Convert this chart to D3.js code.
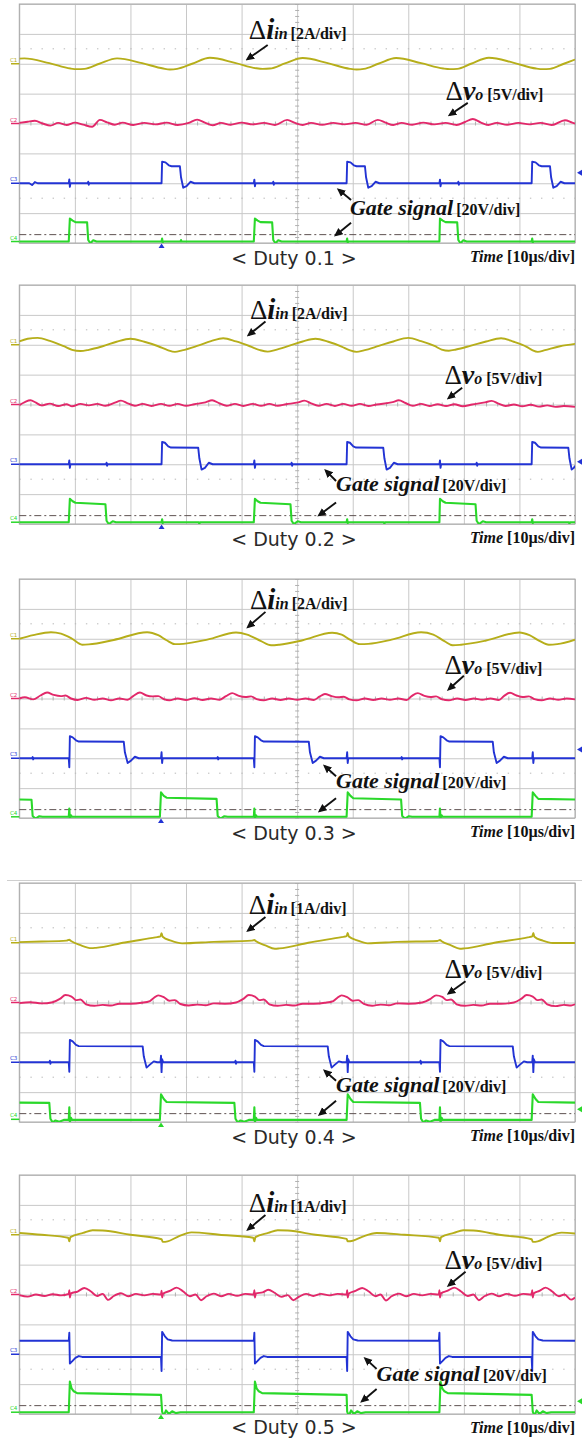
<!DOCTYPE html>
<html>
<head>
<meta charset="utf-8">
<script src="https://cdn.jsdelivr.net/npm/d3@7/dist/d3.min.js"></script>
<style>
  body { margin: 0; background: #fff; }
</style>
</head>
<body>
<svg width="582" height="1439"></svg>
<script>
// ---- data: time in µs (0..100, 10µs/div), value in divisions relative to channel ground ----
const duty = [0.1, 0.2, 0.3, 0.4, 0.5];
const iinScale = ['2A/div', '2A/div', '2A/div', '1A/div', '1A/div'];
const voScale = '5V/div';
const gateScale = '20V/div';
const timeScale = '10µs/div';
const channelNames = ['C1', 'C2', 'C3', 'C4'];

// ground marker of each channel (divisions from centre), per panel
const offsets = [
  [2, 0, -2, -3.95],
  [2, 0, -2, -3.94],
  [2, 0, -2, -3.96],
  [2, 0, -2, -3.91],
  [2, 0, -2, -3.94]
];
const triggerLevel = -3.72;          // dash-dot line
const triggerTime = [25.6, 25.6, 25.5, 25.5, 25.5];
const triggerMark = [-1.65, -1.92, -1.71, -3.57, -3.57];
const triggerChannel = [2, 2, 2, 3, 3];

// ---- Duty 0.1 ----
const p1c1 = [0,0.17, 0.9,0.18, 5.4,0.02, 9.2,-0.16, 10.4,-0.18, 11.7,-0.17, 14.4,0, 17.6,0.18, 22.1,0.02, 25.9,-0.16, 27.1,-0.19, 28.4,-0.17, 31.1,0, 34.3,0.2, 38.8,0.03, 42.6,-0.15, 43.8,-0.17, 45.1,-0.16, 47.8,0.01, 51,0.19, 55.5,0.02, 59.5,-0.17, 60.7,-0.19, 62,-0.17, 64.6,0, 67.8,0.19, 72.3,0.02, 76.3,-0.16, 77.5,-0.18, 78.8,-0.17, 81.3,0, 84.5,0.2, 89,0.03, 93,-0.16, 94.2,-0.18, 95.5,-0.17, 98,0, 100,0.14];
const p1c2 = [0,0.02, 1.5,0.06, 2.8,0.09, 4.2,0, 5.6,-0.07, 7,0.02, 8.5,-0.05, 10,0.03, 11.5,-0.04, 13.1,-0.11, 14.5,0.12, 15.8,0.04, 17.2,-0.04, 18.6,0.03, 20.5,-0.05, 22.5,0.02, 24.5,-0.03, 26.5,0.03, 28.5,-0.05, 30.5,0.02, 32,0.13, 33.4,0.03, 34.8,-0.06, 36.3,0.02, 38,-0.04, 40,0.03, 42,-0.03, 44,0.02, 46,-0.05, 48.2,0.12, 49.6,0.02, 51,-0.05, 52.5,0.02, 54.5,-0.04, 56.5,0.02, 58.5,-0.03, 60.5,0.02, 62.5,-0.04, 64.5,0.12, 65.9,0.03, 67.3,-0.05, 68.8,0.02, 70.7,-0.04, 72.7,0.03, 74.7,-0.03, 76.7,0.02, 78.7,-0.05, 80.2,0.05, 81.6,0.15, 83,0.04, 84.4,-0.05, 85.9,0.02, 87.8,-0.04, 89.8,0.02, 91.8,-0.03, 93.8,0.02, 95.8,-0.05, 98.2,0.11, 99.5,0.03, 100,0];
const p1c3 = [0,0, 1.8,0, 2.3,-0.06, 2.8,0.04, 3.3,0, 8.9,0, 9,0.13, 9.1,-0.12, 9.2,0, 12.3,0, 12.4,0.05, 12.5,-0.05, 12.6,0, 25.6,0, 25.7,0.72, 26.3,0.7, 26.9,0.6, 27.4,0.57, 28.9,0.57, 29.1,0.2, 29.5,-0.15, 30.1,-0.1, 30.8,0.05, 31.5,0, 42.2,0, 42.3,0.12, 42.4,-0.1, 42.5,0, 45.6,0, 45.7,0.05, 45.8,-0.05, 45.9,0, 58.9,0, 59,0.72, 59.6,0.7, 60.2,0.6, 60.7,0.57, 62.2,0.57, 62.4,0.2, 62.8,-0.15, 63.4,-0.1, 64.1,0.05, 64.8,0, 75.6,0, 75.7,0.12, 75.8,-0.1, 75.9,0, 78.9,0, 79,0.05, 79.1,-0.05, 79.2,0, 92.2,0, 92.3,0.72, 92.9,0.7, 93.5,0.6, 94,0.57, 95.5,0.57, 95.7,0.2, 96.1,-0.15, 96.7,-0.1, 97.4,0.05, 98.1,0, 100,0];
const p1c4 = [0,0, 8.9,0, 9.1,0.77, 9.6,0.7, 10.1,0.65, 12.2,0.64, 12.4,0.05, 12.8,-0.06, 13.3,0.04, 13.9,0, 25.6,0, 25.7,0.1, 25.8,-0.04, 25.9,0, 29,0, 29.1,0.05, 29.2,0, 42.2,0, 42.4,0.77, 42.9,0.7, 43.4,0.65, 45.5,0.64, 45.7,0.05, 46.1,-0.06, 46.6,0.04, 47.2,0, 58.9,0, 59,0.1, 59.1,-0.04, 59.2,0, 75.6,0, 75.7,0.77, 76.2,0.7, 76.7,0.65, 78.8,0.64, 79,0.05, 79.4,-0.06, 79.9,0.04, 80.5,0, 92.2,0, 92.3,0.1, 92.4,-0.04, 92.5,0, 100,0];

// ---- Duty 0.2 ----
const p2c1 = [0,0.11, 1.5,0.2, 3.3,0.23, 5.5,0.13, 8,-0.05, 9.5,-0.17, 11,-0.21, 12.5,-0.17, 15,-0.05, 17.5,0.1, 20,0.2, 22.5,0.1, 25,-0.05, 26.7,-0.18, 28,-0.24, 29.3,-0.19, 32,-0.04, 34.5,0.12, 36.7,0.22, 39,0.11, 41.5,-0.05, 43.3,-0.18, 44.7,-0.23, 46,-0.18, 48.5,-0.04, 51,0.11, 53.3,0.2, 55.6,0.1, 58,-0.06, 59.4,-0.18, 60.7,-0.24, 62,-0.19, 64.7,-0.04, 67.3,0.11, 70,0.23, 72.3,0.12, 74.7,-0.04, 76,-0.16, 77.3,-0.2, 78.6,-0.16, 81.3,-0.03, 84,0.11, 86.7,0.22, 89,0.1, 91.3,-0.07, 92.3,-0.18, 93.3,-0.24, 94.6,-0.18, 97.3,-0.05, 100,0.03];
const p2c2 = [0,-0.02, 1,0.08, 2,0.14, 3,0.06, 4,-0.03, 5.5,0.03, 7,-0.05, 8.5,0.01, 9.5,-0.06, 11,0.02, 12.5,-0.03, 14,0.02, 15.5,-0.04, 17.2,0.06, 18.3,0.13, 19.5,0.04, 20.8,-0.04, 22.2,0.02, 23.8,-0.05, 25.5,0.02, 27,-0.04, 28.5,0.02, 30,-0.04, 31.5,0.01, 33.5,0.07, 34.7,0.14, 36,0.04, 37.3,-0.04, 38.8,0.02, 40.3,-0.05, 42,0.02, 43.5,-0.04, 45,0.02, 46.5,-0.04, 48,0.01, 50.2,0.07, 51.3,0.13, 52.5,0.04, 53.8,-0.04, 55.3,0.02, 56.8,-0.05, 58.3,0.02, 59.8,-0.04, 61.3,0.02, 62.8,-0.05, 64.3,0, 67.2,0.08, 68.3,0.14, 69.5,0.05, 70.8,-0.04, 72.3,0.02, 73.8,-0.05, 75.3,0.01, 76.8,-0.05, 78.3,0.01, 79.8,-0.06, 81.5,0, 83.8,0.07, 85,0.12, 86.2,0.03, 87.5,-0.05, 89,0, 90.5,-0.06, 92,-0.01, 93.5,-0.07, 95,-0.03, 96.5,-0.08, 98,-0.05, 100,-0.08];
const p2c3 = [0,0, 8.9,0, 9,0.13, 9.1,-0.12, 9.2,0, 15.6,0, 15.7,0.05, 15.8,-0.05, 15.9,0, 25.6,0, 25.7,0.75, 26.2,0.72, 26.8,0.6, 27.3,0.56, 32.2,0.55, 32.4,0.2, 32.8,-0.18, 33.4,-0.12, 34.1,0.05, 34.8,0, 42.2,0, 42.3,0.13, 42.4,-0.12, 42.5,0, 48.9,0, 49,0.05, 49.1,-0.05, 49.2,0, 58.9,0, 59,0.75, 59.5,0.72, 60.1,0.6, 60.6,0.56, 65.5,0.55, 65.7,0.2, 66.1,-0.18, 66.7,-0.12, 67.4,0.05, 68.1,0, 75.6,0, 75.7,0.13, 75.8,-0.12, 75.9,0, 82.2,0, 82.3,0.05, 82.4,-0.05, 82.5,0, 92.2,0, 92.3,0.75, 92.8,0.72, 93.4,0.6, 93.9,0.56, 98.8,0.55, 99,0.2, 99.4,-0.18, 99.8,-0.12, 100,-0.05];
const p2c4 = [0,0, 8.9,0, 9.1,0.78, 9.6,0.7, 10.1,0.65, 15.5,0.6, 15.7,0.05, 16.1,-0.06, 16.8,0.03, 17.4,0, 25.6,0, 25.7,0.1, 25.8,-0.03, 25.9,0, 32.3,0, 32.4,-0.06, 32.5,0, 42.2,0, 42.4,0.78, 42.9,0.7, 43.4,0.65, 48.8,0.6, 49,0.05, 49.4,-0.06, 50.1,0.03, 50.7,0, 58.9,0, 59,0.1, 59.1,-0.03, 59.2,0, 65.6,0, 65.7,-0.06, 65.8,0, 75.6,0, 75.7,0.78, 76.2,0.7, 76.7,0.65, 82.1,0.6, 82.3,0.05, 82.7,-0.06, 83.4,0.03, 84,0, 92.2,0, 92.3,0.1, 92.4,-0.03, 92.5,0, 98.9,0, 99,-0.06, 99.1,0, 100,0];

// ---- Duty 0.3 ----
const p3c1 = [0,0, 2.5,0.12, 5.7,0.22, 7.5,0.17, 9.5,0, 11.3,-0.2, 12.5,-0.19, 17,-0.04, 23,0.22, 25,0.12, 26.5,-0.05, 28,-0.18, 29.5,-0.17, 34,-0.02, 39,0.21, 41,0.14, 43.5,-0.08, 45.3,-0.22, 46.8,-0.2, 51,-0.05, 56.3,0.2, 58,0.14, 59.5,-0.03, 61.3,-0.18, 62.8,-0.17, 67,-0.03, 72.3,0.22, 74.5,0.14, 76.5,-0.08, 78,-0.22, 79.5,-0.2, 84,-0.06, 90,0.21, 91.8,0.12, 93.5,-0.06, 95.3,-0.2, 96.8,-0.18, 100,-0.03];
const p3c2 = [0,0, 1,0.04, 2.5,-0.03, 3.8,0.1, 5,0.2, 6.2,0.12, 7.5,0.08, 8.3,0.1, 9.3,0, 10.5,-0.05, 12,0.02, 13.5,-0.04, 15,0, 16.5,-0.06, 18,0, 19.5,-0.04, 20.5,0.08, 21.7,0.2, 22.9,0.1, 24,0.07, 25,0.08, 26,-0.02, 27,-0.06, 28.5,0, 30,-0.05, 31.5,0.01, 33,-0.05, 34.5,0, 36,-0.04, 37.2,0.08, 38.3,0.18, 39.5,0.09, 40.7,0.05, 41.7,0.07, 42.7,-0.02, 44,-0.06, 45.5,0, 47,-0.05, 48.5,0, 50,-0.04, 51.5,0, 53,-0.05, 54,0.06, 55,0.15, 56.2,0.08, 57.4,0.04, 58.4,0.06, 59.4,-0.03, 60.7,-0.06, 62.2,0, 63.7,-0.05, 65.2,0, 66.7,-0.04, 68.2,0, 69.7,-0.05, 70.6,0.08, 71.7,0.18, 72.9,0.09, 74,0.05, 75,0.07, 76,-0.02, 77.3,-0.06, 78.8,0, 80.3,-0.05, 81.8,0, 83.3,-0.04, 84.8,0, 86.3,-0.05, 87.2,0.08, 88.3,0.19, 89.5,0.1, 90.6,0.05, 91.7,0.07, 92.7,-0.02, 94,-0.06, 95.5,0, 97,-0.04, 98.5,0, 100,-0.03];
const p3c3 = [0,0, 2.3,0, 2.4,0.04, 2.5,-0.04, 2.6,0, 8.9,0, 9,-0.3, 9.1,0.74, 9.6,0.7, 10.2,0.6, 10.7,0.56, 18.8,0.55, 19,0.2, 19.5,-0.16, 20.1,-0.08, 20.8,0.05, 21.5,0, 25.5,0, 25.6,0.2, 25.7,-0.16, 25.8,0, 35.6,0, 35.7,0.04, 35.8,-0.04, 35.9,0, 42.2,0, 42.3,-0.3, 42.4,0.74, 42.9,0.7, 43.5,0.6, 44,0.56, 52.1,0.55, 52.3,0.2, 52.8,-0.16, 53.4,-0.08, 54.1,0.05, 54.8,0, 58.9,0, 59,0.2, 59.1,-0.16, 59.2,0, 68.7,0, 68.8,0.04, 68.9,-0.04, 69,0, 75.6,0, 75.7,-0.3, 75.8,0.74, 76.3,0.7, 76.9,0.6, 77.4,0.56, 85.2,0.55, 85.4,0.2, 85.9,-0.16, 86.5,-0.08, 87.2,0.05, 87.9,0, 92.3,0, 92.4,0.2, 92.5,-0.16, 92.6,0, 100,0];
const p3c4 = [0,0.58, 2.2,0.57, 2.4,0.03, 2.9,-0.06, 3.6,0.02, 4.2,0, 8.9,0, 9,0.28, 9.1,-0.05, 9.3,0.05, 9.5,0, 25.3,0, 25.5,0.82, 26,0.7, 26.5,0.64, 35.5,0.6, 35.7,0.03, 36.2,-0.06, 36.9,0.02, 37.5,0, 42.2,0, 42.3,0.28, 42.4,-0.05, 42.6,0.05, 42.8,0, 58.9,0, 59.1,0.82, 59.6,0.7, 60.1,0.62, 68.7,0.58, 68.9,0.03, 69.4,-0.06, 70.1,0.02, 70.7,0, 75.6,0, 75.7,0.28, 75.8,-0.05, 76,0.05, 76.2,0, 92.2,0, 92.4,0.82, 92.9,0.7, 93.4,0.6, 100,0.58];

// ---- Duty 0.4 ----
const p4c1 = [0,0.02, 4,0.04, 8.5,0.07, 9,0.1, 9.3,0.06, 11,-0.08, 13,-0.18, 13.8,-0.17, 19,0.01, 24.5,0.18, 25.4,0.21, 25.6,0.32, 25.8,0.2, 27.3,0.07, 29.3,-0.02, 35,0.03, 41.8,0.07, 42.3,0.09, 42.6,0.05, 44.3,-0.09, 46,-0.2, 46.8,-0.19, 52,0, 58,0.19, 58.9,0.22, 59.1,0.33, 59.3,0.21, 60.8,0.08, 62.7,-0.02, 68,0.03, 75.2,0.06, 75.7,0.09, 76,0.05, 77.7,-0.09, 79.3,-0.2, 80.1,-0.19, 85.5,0, 91.5,0.18, 92.3,0.21, 92.5,0.33, 92.7,0.2, 94.2,0.07, 96,-0.01, 100,-0.01];
const p4c2 = [0,-0.02, 2,0.01, 4,-0.03, 6,0.01, 7.3,0.12, 8.3,0.25, 9.4,0.2, 10.2,0.08, 11,0.1, 12,-0.06, 13.5,-0.11, 15,-0.08, 16.5,-0.1, 18,-0.04, 20,-0.04, 22,-0.01, 23.5,0.05, 24.2,0.15, 25,0.24, 26,0.18, 27,0.06, 28,0.08, 29,-0.05, 30.5,-0.1, 32,-0.07, 33.5,-0.09, 35,-0.03, 37,-0.04, 39,0, 40.3,0.12, 41.3,0.25, 42.4,0.2, 43.2,0.08, 44,0.1, 45,-0.06, 46.5,-0.11, 48,-0.08, 49.5,-0.1, 51,-0.04, 53,-0.04, 55,-0.01, 56.5,0.05, 57.2,0.15, 58,0.24, 59,0.18, 60,0.06, 61,0.08, 62,-0.05, 63.5,-0.11, 65,-0.07, 66.5,-0.09, 68,-0.03, 70,-0.04, 72.5,0, 74,0.12, 75,0.24, 76.1,0.19, 76.9,0.08, 77.7,0.1, 78.7,-0.06, 80.2,-0.11, 81.7,-0.08, 83.2,-0.1, 84.7,-0.04, 86.7,-0.04, 89,0, 90.3,0.12, 91.3,0.25, 92.4,0.2, 93.2,0.08, 94,0.1, 95,-0.06, 96.5,-0.12, 98,-0.08, 99.3,-0.1, 100,-0.06];
const p4c3 = [0,0, 5.4,0, 5.5,0.05, 5.6,-0.05, 5.7,0, 8.9,0, 9,-0.32, 9.1,0.75, 9.6,0.7, 10.2,0.58, 10.7,0.54, 22.2,0.53, 22.4,0.2, 22.9,-0.18, 23.5,-0.08, 24.2,0.03, 24.8,0, 25.4,0, 25.5,0.22, 25.6,-0.33, 25.7,0.1, 25.9,0, 38.8,0, 38.9,0.05, 39,-0.05, 39.1,0, 42.2,0, 42.3,-0.32, 42.4,0.75, 42.9,0.7, 43.5,0.58, 44,0.54, 55.5,0.53, 55.7,0.2, 56.2,-0.18, 56.8,-0.08, 57.5,0.03, 58.1,0, 58.9,0, 59,0.22, 59.1,-0.33, 59.2,0.1, 59.4,0, 72.1,0, 72.2,0.05, 72.3,-0.05, 72.4,0, 75.6,0, 75.7,-0.32, 75.8,0.75, 76.3,0.7, 76.9,0.58, 77.4,0.54, 88.8,0.53, 89,0.2, 89.5,-0.18, 90.1,-0.08, 90.8,0.03, 91.4,0, 92.3,0, 92.4,0.22, 92.5,-0.33, 92.6,0.1, 92.8,0, 100,0];
const p4c4 = [0,0.56, 5.4,0.55, 5.6,0.02, 6,-0.1, 6.5,-0.04, 7.2,-0.08, 8,-0.02, 8.9,-0.02, 9,0.4, 9.1,-0.1, 9.3,0.05, 9.5,-0.02, 25.3,-0.02, 25.5,0.84, 26,0.68, 26.5,0.58, 38.7,0.55, 38.9,0.02, 39.3,-0.1, 39.8,-0.04, 40.5,-0.08, 41.3,-0.02, 42.2,-0.02, 42.3,0.4, 42.4,-0.1, 42.6,0.05, 42.8,-0.02, 58.9,-0.02, 59.1,0.84, 59.6,0.68, 60.1,0.58, 72.1,0.55, 72.3,0.02, 72.7,-0.1, 73.2,-0.04, 73.9,-0.08, 74.7,-0.02, 75.6,-0.02, 75.7,0.4, 75.8,-0.1, 76,0.05, 76.2,-0.02, 92.2,-0.02, 92.4,0.84, 92.9,0.68, 93.4,0.58, 100,0.56];

// ---- Duty 0.5 ----
const p5c1 = [0,0.06, 4,0, 8.8,-0.1, 9,-0.22, 9.2,-0.08, 11.5,0.06, 13.2,0.15, 15,0.14, 20,0, 25.6,-0.15, 25.8,-0.24, 26.7,-0.22, 28.5,-0.07, 31,0.08, 36,0, 42.1,-0.1, 42.3,-0.22, 42.5,-0.08, 44.8,0.06, 46.5,0.15, 48.3,0.14, 53.3,0, 58.9,-0.14, 59.1,-0.22, 60,-0.2, 61.8,-0.06, 64.3,0.06, 69.3,0, 75.5,-0.1, 75.7,-0.22, 75.9,-0.08, 78.2,0.06, 79.9,0.15, 81.7,0.14, 86.7,-0.01, 92.2,-0.15, 92.4,-0.24, 93.3,-0.22, 95.1,-0.07, 97.6,0.07, 100,0.04];
const p5c2 = [0,-0.02, 1.5,-0.07, 3,0, 4.5,-0.05, 6,0.01, 7.5,-0.03, 8.9,0.02, 9,0.14, 9.1,-0.1, 9.3,0.04, 10.5,0.1, 11.7,0.22, 12.9,0.1, 14,-0.05, 15,0.02, 16,-0.18, 17,-0.05, 18.3,0.04, 19.6,-0.06, 21,0.02, 22.5,-0.03, 24,0.02, 25.5,0, 25.6,0.13, 25.7,-0.1, 25.9,0.03, 27.1,0.12, 28.3,0.23, 29.5,0.1, 30.7,-0.06, 31.7,0, 32.7,-0.19, 33.7,-0.06, 35,0.03, 36.3,-0.06, 37.7,0.02, 39.2,-0.04, 40.7,0.02, 42.2,0, 42.3,0.14, 42.4,-0.1, 42.6,0.04, 43.8,0.07, 44.8,0.16, 46,0.05, 47.2,-0.08, 48.3,-0.02, 49.3,-0.19, 50.3,-0.08, 51.6,0.02, 52.9,-0.05, 54.3,0.02, 55.8,-0.03, 57.3,0.02, 58.9,0, 59,0.14, 59.1,-0.1, 59.3,0.03, 60.5,0.12, 61.7,0.22, 62.9,0.1, 64.1,-0.06, 65,0, 66,-0.2, 67,-0.06, 68.3,0.03, 69.6,-0.06, 71,0.02, 72.5,-0.03, 74,0.02, 75.5,0, 75.6,0.14, 75.7,-0.1, 75.9,0.04, 77,0.12, 78.3,0.23, 79.5,0.1, 80.7,-0.05, 81.7,0, 82.7,-0.19, 83.7,-0.06, 85,0.03, 86.3,-0.06, 87.7,0.02, 89.2,-0.04, 90.7,0.02, 92.2,0, 92.3,0.14, 92.4,-0.1, 92.6,0.04, 93.6,0.12, 94.7,0.23, 95.9,0.1, 97.1,-0.06, 98.1,0, 99.3,-0.17, 100,-0.1];
const p5c3 = [0,0.45, 8.9,0.45, 9,0.72, 9.1,-0.31, 9.5,-0.24, 10.1,-0.12, 10.7,-0.06, 11.3,-0.09, 25.5,-0.09, 25.6,-0.56, 25.7,0.75, 26.2,0.6, 26.7,0.5, 27.5,0.46, 42.2,0.45, 42.3,0.72, 42.4,-0.31, 42.8,-0.24, 43.4,-0.12, 44,-0.06, 44.6,-0.09, 58.9,-0.09, 59,-0.56, 59.1,0.75, 59.6,0.6, 60.1,0.5, 60.9,0.46, 75.5,0.45, 75.6,0.72, 75.7,-0.31, 76.1,-0.24, 76.7,-0.12, 77.3,-0.06, 77.9,-0.09, 92.2,-0.09, 92.3,-0.56, 92.4,0.75, 92.9,0.6, 93.4,0.5, 94.2,0.46, 100,0.45];
const p5c4 = [0,0, 8.9,0, 9.1,1.03, 9.4,0.8, 9.8,0.7, 10.4,0.64, 25.5,0.58, 25.7,0.02, 26,-0.12, 26.4,0.06, 26.9,-0.06, 27.5,0.03, 28.2,-0.03, 29,0, 42.2,0, 42.4,1.03, 42.7,0.8, 43.1,0.7, 43.7,0.64, 58.9,0.58, 59,0.02, 59.3,-0.12, 59.7,0.06, 60.2,-0.06, 60.8,0.03, 61.5,-0.03, 62.3,0, 75.6,0, 75.8,1.03, 76.1,0.8, 76.5,0.7, 77.1,0.64, 92.2,0.58, 92.4,0.02, 92.7,-0.12, 93.1,0.06, 93.6,-0.06, 94.2,0.03, 94.9,-0.03, 95.7,0, 100,0];

const traces = [
  [p1c1, p1c2, p1c3, p1c4],
  [p2c1, p2c2, p2c3, p2c4],
  [p3c1, p3c2, p3c3, p3c4],
  [p4c1, p4c2, p4c3, p4c4],
  [p5c1, p5c2, p5c3, p5c4]
];

// ---- layout ----
const svg = d3.select('svg');
const height = +svg.attr('height');
const panelTop = [4, 285, 579, 883, 1175];
const panelH = 239;
const left = 19.3, right = 575;
const colors = ['#b6ae1a', '#e2286a', '#2233d4', '#2ad82a'];
const serif = "'Liberation Serif', 'DejaVu Serif', serif";
const sans = "'DejaVu Sans', sans-serif";

// annotation anchors in (µs, div) of each panel
const annIin = [[41.3, 2.82], [41.5, 2.85], [41.5, 2.99], [41.3, 2.95], [41.3, 2.76]];
const arrIin = [[44.7, 2.63, 41.1, 2.16], [44.3, 2.78, 41.3, 2.33], [44.3, 2.9, 41.2, 2.4], [44.3, 2.86, 41.2, 2.41], [44.3, 2.66, 41.2, 2.18]];
const annVo = [[76.7, 0.79], [76.5, 0.67], [76.5, 0.82], [76.5, 0.82], [76.5, 0.87]];
const arrVo = [[80.7, 0.69, 77.5, 0.29], [79.7, 0.56, 77.3, 0.22], [80, 0.76, 77.3, 0.31], [80.3, 0.71, 77.3, 0.31], [80.3, 0.76, 77.3, 0.31]];
const annGate = [[59.5, -3.06], [57, -2.89], [57, -3.0], [57, -3.01], [64.3, -2.88]];
const arrGateUp = [[59.7, -2.56, 57.5, -2.22], [57, -2.56, 55.2, -2.22], [57, -2.6, 55, -2.27], [57, -2.62, 55, -2.29], [64.3, -2.49, 62.3, -2.15]];
const arrGateDn = [[59.7, -3.32, 57, -3.73], [57, -3.28, 54, -3.7], [57, -3.34, 54.1, -3.76], [57, -3.29, 54.1, -3.74], [64.3, -3.16, 61.7, -3.57]];

const toPoints = a => d3.range(0, a.length, 2).map(i => [a[i], a[i + 1]]);

const xScale = d3.scaleLinear().domain([0, 100]).range([left, right]);
const yScale = d3.scaleLinear().domain([-4, 4]).range([panelH, 0]);

const defs = svg.append('defs');
defs.append('clipPath').attr('id', 'plotclip')
  .append('rect').attr('x', left).attr('y', 0).attr('width', right - left).attr('height', panelH);
defs.append('marker')
  .attr('id', 'arrowhead')
  .attr('viewBox', '0 0 10 10')
  .attr('refX', 7).attr('refY', 5)
  .attr('markerWidth', 4.6).attr('markerHeight', 4.6)
  .attr('orient', 'auto')
  .append('path').attr('d', 'M0,0.5 L10,5 L0,9.5 z').attr('fill', '#111');

// separator line above the fourth screen
svg.append('line')
  .attr('x1', 7).attr('x2', 582).attr('y1', 880.5).attr('y2', 880.5)
  .attr('stroke', '#cfcfcf').attr('stroke-width', 1);

panelTop.forEach((top, p) => {
  const g = svg.append('g').attr('transform', `translate(0,${top})`);

  // grid from the library axes
  const xGrid = d3.axisBottom(xScale).tickValues(d3.range(0, 101, 10))
    .tickSize(-panelH).tickFormat('');
  g.append('g').attr('class', 'x-grid')
    .attr('transform', `translate(0,${panelH})`)
    .call(xGrid)
    .call(s => s.select('.domain').remove())
    .selectAll('line').attr('stroke', '#c8c8c8').attr('stroke-width', 1);

  const yGrid = d3.axisLeft(yScale).tickValues(d3.range(-4, 5, 1))
    .tickSize(-(right - left)).tickFormat('');
  g.append('g').attr('class', 'y-grid')
    .attr('transform', `translate(${left},0)`)
    .call(yGrid)
    .call(s => s.select('.domain').remove())
    .selectAll('line').attr('stroke', '#c8c8c8').attr('stroke-width', 1);

  // dotted rows
  [2.5, -2.5].forEach(v => {
    g.append('line')
      .attr('x1', left).attr('x2', right)
      .attr('y1', yScale(v)).attr('y2', yScale(v))
      .attr('stroke', '#b8b8b8').attr('stroke-width', 1)
      .attr('stroke-dasharray', '1.4,9.7');
  });

  // centre-line minor ticks
  const xMinor = d3.axisBottom(xScale).tickValues(d3.range(0, 100.1, 2)).tickSize(4).tickFormat('');
  g.append('g').attr('transform', `translate(0,${yScale(0) - 2})`).call(xMinor)
    .call(s => s.select('.domain').remove())
    .selectAll('line').attr('stroke', '#b0b0b0');
  const yMinor = d3.axisLeft(yScale).tickValues(d3.range(-4, 4.01, 0.2)).tickSize(4).tickFormat('');
  g.append('g').attr('transform', `translate(${xScale(50) + 2},0)`).call(yMinor)
    .call(s => s.select('.domain').remove())
    .selectAll('line').attr('stroke', '#b0b0b0');

  // border
  g.append('rect')
    .attr('x', left).attr('y', 0)
    .attr('width', right - left).attr('height', panelH)
    .attr('fill', 'none').attr('stroke', '#a8a8a8').attr('stroke-width', 1);

  // trigger level dash-dot
  g.append('line')
    .attr('x1', left).attr('x2', right)
    .attr('y1', yScale(triggerLevel)).attr('y2', yScale(triggerLevel))
    .attr('stroke', '#5e5250').attr('stroke-width', 1)
    .attr('stroke-dasharray', '7,3,2,3');

  // traces
  const plot = g.append('g').attr('clip-path', 'url(#plotclip)');
  traces[p].forEach((series, c) => {
    const off = offsets[p][c];
    const line = d3.line()
      .x(d => xScale(d[0]))
      .y(d => yScale(off + d[1]))
      .curve(c < 2 ? d3.curveMonotoneX : d3.curveLinear);
    plot.append('path')
      .datum(toPoints(series))
      .attr('d', line)
      .attr('fill', 'none')
      .attr('stroke', colors[c])
      .attr('stroke-width', c === 3 ? 2.1 : 1.9)
      .attr('stroke-linejoin', 'round');
  });

  // channel ground markers
  channelNames.forEach((name, c) => {
    const yy = yScale(offsets[p][c]);
    g.append('line')
      .attr('x1', 11).attr('x2', left).attr('y1', yy).attr('y2', yy)
      .attr('stroke', colors[c]).attr('stroke-width', 1.5);
    g.append('text')
      .attr('x', 10).attr('y', yy - 2)
      .style('font-family', sans)
      .style('font-size', '5.5px')
      .attr('fill', colors[c])
      .text(name);
  });

  // trigger markers
  const tc = colors[triggerChannel[p]];
  const tx = xScale(triggerTime[p]);
  g.append('path')
    .attr('d', `M${tx - 3},${panelH + 5} L${tx + 3},${panelH + 5} L${tx},${panelH + 0.5} Z`)
    .attr('fill', tc);
  const ty = yScale(triggerMark[p]);
  g.append('path')
    .attr('d', `M${right + 7},${ty - 3} L${right + 7},${ty + 3} L${right + 2},${ty} Z`)
    .attr('fill', tc);

  // annotations
  const arrow = a => g.append('line')
    .attr('x1', xScale(a[0])).attr('y1', yScale(a[1]))
    .attr('x2', xScale(a[2])).attr('y2', yScale(a[3]))
    .attr('stroke', '#111').attr('stroke-width', 1.9)
    .attr('marker-end', 'url(#arrowhead)');

  const label = (pos, parts) => {
    const t = g.append('text')
      .attr('x', xScale(pos[0])).attr('y', yScale(pos[1]))
      .style('font-family', serif)
      .attr('fill', '#111');
    parts.forEach(d => {
      const s = t.append('tspan')
        .style('font-size', d.size + 'px')
        .style('font-weight', d.bold ? 'bold' : 'normal')
        .style('font-style', d.italic ? 'italic' : 'normal')
        .text(d.text);
      if (d.dx) s.attr('dx', d.dx);
    });
    return t;
  };

  label(annIin[p], [
    { text: '\u0394', size: 27 },
    { text: 'i', size: 29, bold: true, italic: true },
    { text: 'in', size: 16, bold: true, italic: true },
    { text: `[${iinScale[p]}]`, size: 16, bold: true, dx: 3 }
  ]);
  arrow(arrIin[p]);

  label(annVo[p], [
    { text: '\u0394', size: 27 },
    { text: 'v', size: 28, bold: true, italic: true },
    { text: 'o', size: 16, bold: true, italic: true },
    { text: `[${voScale}]`, size: 16, bold: true, dx: 4 }
  ]);
  arrow(arrVo[p]);

  label(annGate[p], [
    { text: 'Gate signal', size: 22, bold: true, italic: true },
    { text: `[${gateScale}]`, size: 16, bold: true, dx: 3 }
  ]);
  arrow(arrGateUp[p]);
  arrow(arrGateDn[p]);

  // time base
  label([100, -4.62], [
    { text: 'Time ', size: 16, bold: true, italic: true },
    { text: `[${timeScale}]`, size: 16, bold: true }
  ]).attr('text-anchor', 'end');

  // caption (kept inside the page at the bottom)
  const capY = Math.min(panelH + 21.5, height - top - 5);
  g.append('text')
    .attr('x', 294).attr('y', capY)
    .attr('text-anchor', 'middle')
    .style('font-family', sans)
    .style('font-size', '19px')
    .attr('fill', '#2a2a2a')
    .text(`< Duty ${duty[p]} >`);
});
</script>
</body>
</html>
